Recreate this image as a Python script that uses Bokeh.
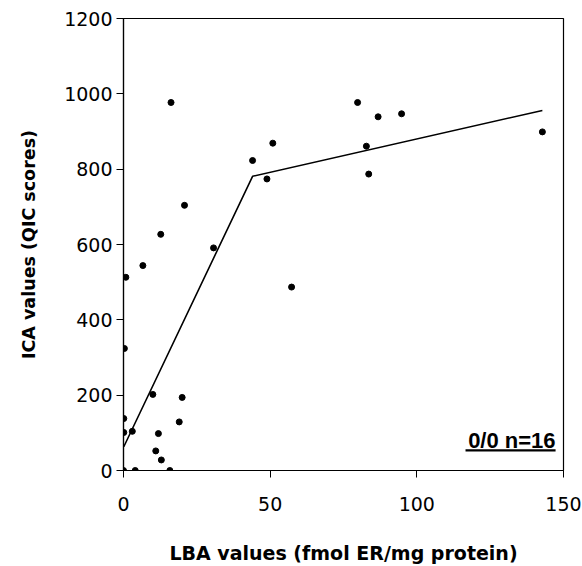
from bokeh.plotting import figure
from bokeh.models import Range1d, FixedTicker, Label, BoxAnnotation
from bokeh.embed import file_html
from bokeh.resources import INLINE

# Data
lba = [16.2, 50.9, 44.0, 48.9, 20.8, 12.7, 30.7, 6.6, 0.8, 57.3, 0.3, 10.0, 20.0,
       0.1, 0.1, 3.0, 19.0, 11.9, 11.0, 12.9, 0.0, 4.0, 15.8,
       79.8, 86.8, 94.8, 82.8, 83.6, 142.8]
ica = [977, 869, 823, 774, 704, 627, 591, 544, 513, 487, 324, 202, 194,
       138, 101, 104, 129, 98, 52, 28, 0, 0, 0,
       977, 939, 947, 861, 787, 899]
fit_x = [0.1, 44.0, 142.8]
fit_y = [63, 781, 956]
x_ticks = [0, 50, 100, 150]
y_ticks = [0, 200, 400, 600, 800, 1000, 1200]
note = "0/0 n=16"

p = figure(width=582, height=566, output_backend="svg", toolbar_location=None,
           x_range=Range1d(0, 150), y_range=Range1d(0, 1200),
           min_border_left=123, min_border_right=19, min_border_top=18, min_border_bottom=92)

p.xgrid.visible = False
p.ygrid.visible = False
p.outline_line_color = "black"
p.outline_line_width = 1.2
p.background_fill_color = "white"
p.border_fill_color = "white"

for ax in (p.xaxis[0], p.yaxis[0]):
    ax.axis_line_color = "black"
    ax.axis_line_width = 1.2
    ax.major_tick_line_color = "black"
    ax.major_tick_in = 0
    ax.major_tick_out = 7
    ax.minor_tick_line_color = None
    ax.major_label_text_font = "DejaVu Sans"
    ax.major_label_text_font_size = "19px"
    ax.major_label_text_color = "black"
    ax.axis_label_text_font = "DejaVu Sans"
    ax.axis_label_text_font_style = "bold"
    ax.axis_label_text_color = "black"

p.xaxis.axis_label_text_font_size = "19px"
p.yaxis.axis_label_text_font_size = "17.5px"
p.xaxis.ticker = FixedTicker(ticks=x_ticks)
p.yaxis.ticker = FixedTicker(ticks=y_ticks)
p.xaxis.axis_label = "LBA values (fmol ER/mg protein)"
p.yaxis.axis_label = "ICA values (QIC scores)"
p.xaxis.major_label_standoff = 19
p.yaxis.major_label_standoff = 4
p.xaxis.axis_label_standoff = 28
p.yaxis.axis_label_standoff = 22

p.line(fit_x, fit_y, line_color="black", line_width=1.6)
p.scatter(lba, ica, size=6, fill_color="black", line_color="black")

p.add_layout(Label(x=147.3, y=79, text=note, text_align="right", text_baseline="alphabetic",
                   text_font="Liberation Sans", text_font_style="bold",
                   text_font_size="22px", text_color="black"))
p.add_layout(BoxAnnotation(left=116.6, right=147.3, bottom=50.5, top=56.5,
                           fill_color="black", fill_alpha=1.0, line_color=None))

open("out.html", "w").write(file_html(p, INLINE))
